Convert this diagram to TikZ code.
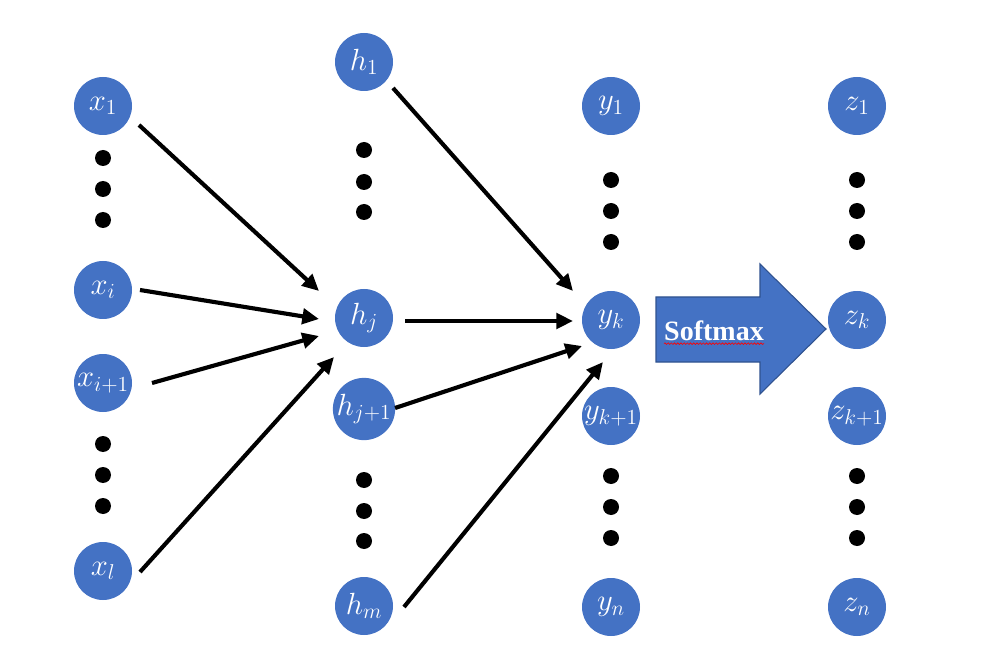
\RequirePackage{fix-cm}
\documentclass[tikz,border=0pt]{standalone}
\usepackage{fontspec}
\setmainfont{Liberation Serif}
\usetikzlibrary{arrows.meta,decorations.pathmorphing}
\definecolor{nodeblue}{HTML}{4472C4}
\definecolor{edgeblue}{HTML}{2F528F}
\begin{document}
\begin{tikzpicture}[x=0.75pt,y=-0.75pt,
  neuron/.style={circle,fill=nodeblue,minimum size=43.5pt,inner sep=0pt,text=white,font=\fontsize{23}{27}\selectfont},
  conn/.style={line width=3.1pt,-{Triangle[length=12.5pt,width=11.5pt]}},
  bigarrow/.style={fill=nodeblue,draw=edgeblue,line width=0.8pt},
  dotmark/.style={fill=black}]
\useasboundingbox (0,0) rectangle (1003,659);

% input layer
\node[neuron] (x1)  at (103,106) {$x_1$};
\node[neuron] (xi)  at (103,290) {$x_i$};
\node[neuron] (xi1) at (103,383) {$x_{i+1}$};
\node[neuron] (xl)  at (103,571) {$x_l$};
% hidden layer
\node[neuron] (h1)  at (364,62)  {$h_1$};
\node[neuron] (hj)  at (364,318) {$h_j$};
\node[neuron] (hj1) at (364,409) {$h_{j+1}$};
\node[neuron] (hm)  at (364,606) {$h_m$};
% output layer
\node[neuron] (y1)  at (611,106) {$y_1$};
\node[neuron] (yk)  at (611,320) {$y_k$};
\node[neuron] (yk1) at (611,416) {$y_{k+1}$};
\node[neuron] (yn)  at (611,607) {$y_n$};
% softmax layer
\node[neuron] (z1)  at (857,106) {$z_1$};
\node[neuron] (zk)  at (857,320) {$z_k$};
\node[neuron] (zk1) at (857,416) {$z_{k+1}$};
\node[neuron] (zn)  at (857,607) {$z_n$};

% dots
\foreach \yy in {158,189,220,444,475,506} \fill[dotmark] (103,\yy) circle[radius=6pt];
\foreach \yy in {150,182,212,480,511,541} \fill[dotmark] (364,\yy) circle[radius=6pt];
\foreach \yy in {180,211,242,476,507,538} \fill[dotmark] (611,\yy) circle[radius=6pt];
\foreach \yy in {180,211,242,476,507,538} \fill[dotmark] (857,\yy) circle[radius=6pt];

% connectors input -> hidden
\draw[conn] ([shift={(36,19)}]x1.center) -- ([shift={(-45,-27)}]hj.center);
\draw[conn] ([shift={(37,0)}]xi.center) -- ([shift={(-45,1)}]hj.center);
\draw[conn] ([shift={(49,0)}]xi1.center) -- ([shift={(-45,18)}]hj.center);
\draw[conn] ([shift={(37,1)}]xl.center) -- ([shift={(-30,39)}]hj.center);
% connectors hidden -> output
\draw[conn] ([shift={(29,26)}]h1.center) -- ([shift={(-38,-29)}]yk.center);
\draw[conn] ([shift={(41,3)}]hj.center) -- ([shift={(-38,1)}]yk.center);
\draw[conn] ([shift={(31,-1)}]hj1.center) -- ([shift={(-29,26)}]yk.center);
\draw[conn] ([shift={(40,1)}]hm.center) -- ([shift={(-8,42)}]yk.center);

% softmax block arrow
\draw[bigarrow] (656,297) -- (760,297) -- (760,264) -- (826,329) -- (760,394) -- (760,362) -- (656,362) -- cycle;
\node[text=white,font=\fontsize{21}{24}\selectfont\bfseries,inner sep=0pt] (sm) at (714,331) {Softmax};
\draw[red,line width=0.5pt,decorate,decoration={snake,amplitude=0.6pt,segment length=2.4pt}]
  ([yshift=-2.2pt]sm.base west) -- ([yshift=-2.2pt]sm.base east);
\end{tikzpicture}
\end{document}
